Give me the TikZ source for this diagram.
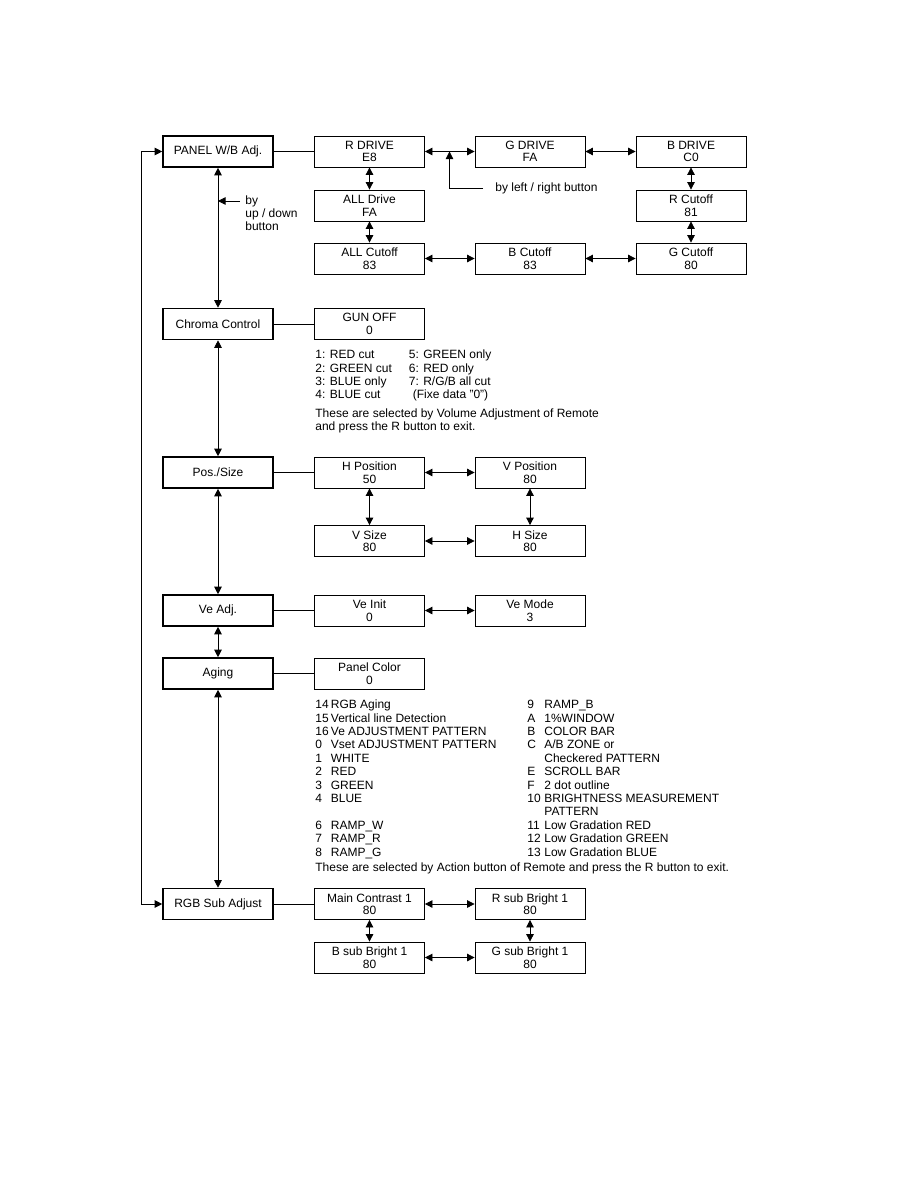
\documentclass[tikz,border=0pt]{standalone}
\usepackage{fontspec}
\setmainfont{Liberation Sans}
\usepackage{tikz}
\usetikzlibrary{arrows.meta}
\usetikzlibrary{positioning}
\def\txtsize{\fontsize{12}{12.5}\selectfont}
\def\listsize{\fontsize{12}{13.4}\selectfont}

\begin{document}
\begin{tikzpicture}[x=1pt, y=-1pt, line width=0.8pt,
    every node/.style={font=\txtsize},
    menu/.style={draw, line width=1.6pt, minimum width=110pt, minimum height=31pt, inner sep=0pt},
    item/.style={draw, line width=0.8pt, minimum width=110pt, minimum height=31pt, inner sep=0pt, align=center},
    note/.style={anchor=north west, inner sep=0pt, align=left, font=\listsize},
    >={Triangle[length=7.5pt,width=7.5pt]}]
    \useasboundingbox (0,0) rectangle (918,1188);

    % menu column
    \node[menu] (panel) at (218,151.5) {PANEL W/B Adj.};
    \node[menu] (chroma) at (218,324) {Chroma Control};
    \node[menu] (possize) at (218,472.5) {Pos./Size};
    \node[menu] (veadj) at (218,610.5) {Ve Adj.};
    \node[menu] (aging) at (218,673.5) {Aging};
    \node[menu] (rgbsub) at (218,904) {RGB Sub Adjust};

    % panel w/b
    \node[item] (rdrive) at (369.5,151.5) {R DRIVE\\E8};
    \node[item] (gdrive) at (530,151.5) {G DRIVE\\FA};
    \node[item] (bdrive) at (691,151.5) {B DRIVE\\C0};
    \node[item] (alldrive) at (369.5,205.5) {ALL Drive\\FA};
    \node[item] (rcutoff) at (691,205.5) {R Cutoff\\81};
    \node[item] (allcutoff) at (369.5,258.5) {ALL Cutoff\\83};
    \node[item] (bcutoff) at (530,258.5) {B Cutoff\\83};
    \node[item] (gcutoff) at (691,258.5) {G Cutoff\\80};

    % chroma
    \node[item] (gunoff) at (369.5,324) {GUN OFF\\0};
    \node[note] (gunlist) at (315,349) {\begin{tabular}{@{}l@{\hspace{17pt}}l@{}}
        1: RED cut & 5: GREEN only\\
        2: GREEN cut & 6: RED only\\
        3: BLUE only & 7: R/G/B all cut\\
        4: BLUE cut & \hspace{4pt}(Fixe data "0")
      \end{tabular}};
    \node[note] (gunnote) at (315,408.5) {These are selected by Volume Adjustment of Remote\\and press the R button to exit.};

    % pos./size
    \node[item] (hpos) at (369.5,472.5) {H Position\\50};
    \node[item] (vpos) at (530,472.5) {V Position\\80};
    \node[item] (vsize) at (369.5,541) {V Size\\80};
    \node[item] (hsize) at (530,541) {H Size\\80};

    % ve
    \node[item] (veinit) at (369.5,610.5) {Ve Init\\0};
    \node[item] (vemode) at (530,610.5) {Ve Mode\\3};

    % aging
    \node[item] (panelcolor) at (369.5,673.5) {Panel Color\\0};
    \node[note] (aginglist) at (315,699) {\begin{tabular}{@{}p{14pt}@{\hspace{1.5pt}}l@{}}
        14 & RGB Aging\\
        15 & Vertical line Detection\\
        16 & Ve ADJUSTMENT PATTERN\\
        0 & Vset ADJUSTMENT PATTERN\\
        1 & WHITE\\
        2 & RED\\
        3 & GREEN\\
        4 & BLUE\\
        & \\
        6 & RAMP\_W\\
        7 & RAMP\_R\\
        8 & RAMP\_G
      \end{tabular}};
    \node[note] (agingmore) at (527,699) {\begin{tabular}{@{}p{14pt}@{\hspace{3pt}}l@{}}
        9 & RAMP\_B\\
        A & 1\%WINDOW\\
        B & COLOR BAR\\
        C & A/B ZONE or\\
        & Checkered PATTERN\\
        E & SCROLL BAR\\
        F & 2 dot outline\\
        10 & BRIGHTNESS MEASUREMENT\\
        & PATTERN\\
        11 & Low Gradation RED\\
        12 & Low Gradation GREEN\\
        13 & Low Gradation BLUE
      \end{tabular}};
    \node[note] (agingnote) at (315,862.5) {These are selected by Action button of Remote and press the R button to exit.};

    % rgb sub
    \node[item] (maincontrast) at (369.5,904) {Main Contrast 1\\80};
    \node[item] (rsub) at (530,904) {R sub Bright 1\\80};
    \node[item] (bsub) at (369.5,957.5) {B sub Bright 1\\80};
    \node[item] (gsub) at (530,957.5) {G sub Bright 1\\80};

    % button notes
    \node[anchor=west, inner xsep=12pt] (lrtxt) at (483,188) {by left / right button};
    \coordinate (lr) at (449.5,151.5);
    \node[note, font=\fontsize{12}{13}\selectfont] (udtxt) at (245,195) {by\\up / down\\button};
    \coordinate (udfrom) at (240,201);
    \coordinate (udto) at (218,201);

    \draw (panel.east) -- (rdrive.west);
    \draw (chroma.east) -- (gunoff.west);
    \draw (possize.east) -- (hpos.west);
    \draw (veadj.east) -- (veinit.west);
    \draw (aging.east) -- (panelcolor.west);
    \draw (rgbsub.east) -- (maincontrast.west);

    \draw[<->] (panel) -- (chroma);
    \draw[<->] (chroma) -- (possize);
    \draw[<->] (possize) -- (veadj);
    \draw[<->] (veadj) -- (aging);
    \draw[<->] (aging) -- (rgbsub);
    \draw[<->] (panel.west) -- ++(-21,0) |- (rgbsub.west);

    \draw[<->] (rdrive) -- (gdrive);
    \draw[<->] (gdrive) -- (bdrive);
    \draw[<->] (bdrive) -- (rcutoff);
    \draw[<->] (rcutoff) -- (gcutoff);
    \draw[<->] (gcutoff) -- (bcutoff);
    \draw[<->] (bcutoff) -- (allcutoff);
    \draw[<->] (allcutoff) -- (alldrive);
    \draw[<->] (alldrive) -- (rdrive);
    \draw[->] (lrtxt.west) -| (lr);
    \draw[->] (udfrom) -- (udto);

    \draw[<->] (hpos) -- (vpos);
    \draw[<->] (hpos) -- (vsize);
    \draw[<->] (vpos) -- (hsize);
    \draw[<->] (vsize) -- (hsize);
    \draw[<->] (veinit) -- (vemode);

    \draw[<->] (maincontrast) -- (rsub);
    \draw[<->] (maincontrast) -- (bsub);
    \draw[<->] (rsub) -- (gsub);
    \draw[<->] (bsub) -- (gsub);
\end{tikzpicture}
\end{document}
